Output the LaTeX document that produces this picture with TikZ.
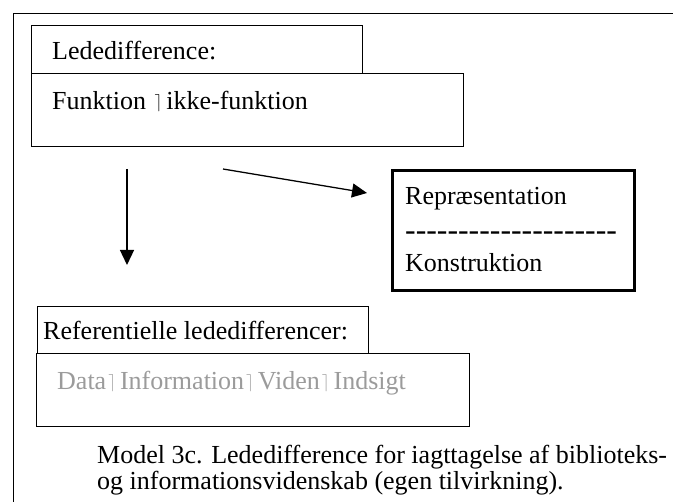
\documentclass[tikz,border=0pt]{standalone}
\usepackage{fontspec}
\setmainfont{Liberation Serif}
\usepackage{graphicx}
\usetikzlibrary{arrows.meta}
\definecolor{txtgray}{RGB}{155,155,155}
\newcommand\mk{\kern2pt\raisebox{2.5pt}{\scalebox{0.7}[0.69]{$\rceil$}}\kern4pt}
\newcommand\hy{\mbox{-}}
\tikzset{
  boxshape/.style={draw=black, line width=1.3pt, rectangle, inner sep=0pt, anchor=north west},
  thickbox/.style={boxshape, line width=2.8pt},
  label/.style={inner sep=0pt, anchor=base west, font=\fontsize{26}{30}\selectfont},
  arr/.style={line width=1.3pt, -{Triangle[length=15pt,width=14pt]}}
}
\begin{document}
\begin{tikzpicture}[x=1pt,y=-1pt]
\useasboundingbox (0,0) rectangle (673,502);
\clip (0,0) rectangle (673,502);
\node[boxshape, minimum width=700pt, minimum height=520pt] (frame) at (13,13) {};
\node[boxshape, minimum width=331pt, minimum height=48pt] (ledtop) at (31,25) {};
\node[boxshape, minimum width=432pt, minimum height=73pt] (funk) at (31,73) {};
\node[thickbox, minimum width=242pt, minimum height=120pt] (repr) at (391,169) {};
\node[boxshape, minimum width=331pt, minimum height=47pt] (reftop) at (37,306) {};
\node[boxshape, minimum width=433pt, minimum height=73pt] (data) at (36,353) {};

\node[label] (t1) at (52,60) {Lededifference:};
\node[label] (t2) at (52,110) {Funktion \mk ikke-funktion};
\node[label] (t3) at (405,205) {Repræsentation};
\node[label, font=\fontsize{31.8}{34}\selectfont] (t4) at (405,241) {\hy\hy\hy\hy\hy\hy\hy\hy\hy\hy\hy\hy\hy\hy\hy\hy\hy\hy\hy\hy};
\node[label] (t5) at (405,272) {Konstruktion};
\node[label] (t6) at (43,340) {Referentielle lededifferencer:};
\node[label, text=txtgray] (t7) at (57,390) {Data\mk Information\mk Viden\mk Indsigt};
\node[label] (c1) at (97,464) {Model 3c. Lededifference for iagttagelse af biblioteks-};
\node[label] (c2) at (97,490) {og informationsvidenskab (egen tilvirkning).};

\coordinate (a1s) at (127,169);
\coordinate (a1e) at (127,265);
\coordinate (a2s) at (223,169);
\coordinate (a2e) at (367,193);
\draw[arr] (a1s) -- (a1e);
\draw[arr] (a2s) -- (a2e);
\end{tikzpicture}
\end{document}
